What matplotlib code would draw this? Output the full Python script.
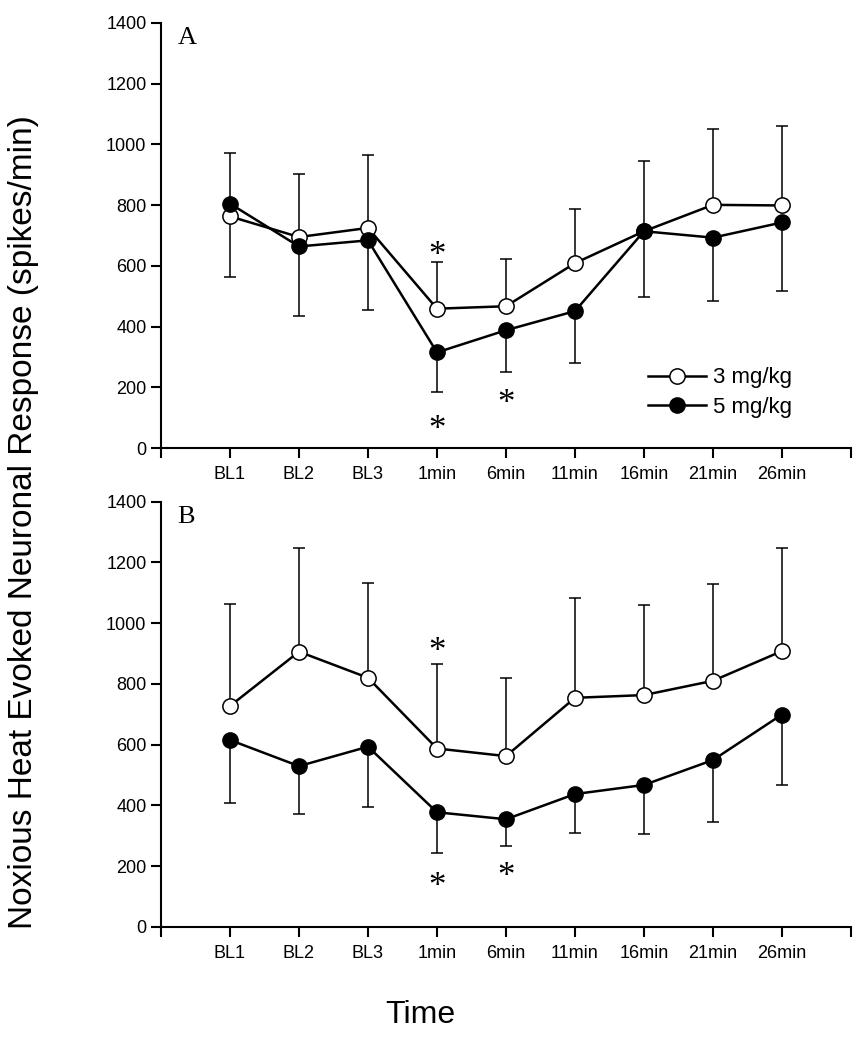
import matplotlib

matplotlib.use("Agg")
import matplotlib.pyplot as plt
import numpy as np

plt.rcParams.update({"font.family": "Liberation Sans", "font.size": 13})

# ---- data ---------------------------------------------------------------
time_labels = ["BL1", "BL2", "BL3", "1min", "6min", "11min", "16min", "21min", "26min"]

# panel A
a_mean_3 = [763, 695, 725, 459, 467, 609, 714, 801, 799]
a_sem_3 = [209, 208, 240, 154, 157, 178, 232, 251, 261]     # drawn upward
a_mean_5 = [805, 664, 684, 315, 388, 451, 714, 693, 743]
a_sem_5 = [242, 228, 229, 129, 138, 171, 216, 210, 227]     # drawn downward

# panel B
b_mean_3 = [727, 906, 820, 587, 562, 754, 763, 810, 908]
b_sem_3 = [335, 341, 311, 279, 257, 330, 298, 319, 339]
b_mean_5 = [615, 529, 593, 377, 354, 437, 467, 549, 699]
b_sem_5 = [209, 157, 199, 134, 88, 128, 161, 203, 233]

# asterisks: (time index, y value)
a_stars = [(3, 668), (3, 93), (4, 181)]
b_stars = [(3, 941), (3, 165), (4, 198)]

fig = plt.figure(figsize=(8.67, 10.5), dpi=100)
ax_a = fig.add_axes([0.1857, 0.5733, 0.7958, 0.4048])
ax_b = fig.add_axes([0.1857, 0.1174, 0.7958, 0.4048])

x = np.arange(1, len(time_labels) + 1)


def draw_panel(ax, m3, s3, m5, s5, stars, letter):
    zeros = np.zeros(len(x))
    ax.errorbar(x, m3, yerr=[zeros, s3], fmt="none", ecolor="black",
                elinewidth=1.1, capsize=4, capthick=1.1, zorder=1)
    ax.errorbar(x, m5, yerr=[s5, zeros], fmt="none", ecolor="black",
                elinewidth=1.1, capsize=4, capthick=1.1, zorder=1)
    ax.plot(x, m3, "-o", color="black", lw=1.8, ms=11, mfc="white",
            mec="black", mew=1.1, label="3 mg/kg", zorder=3)
    ax.plot(x, m5, "-o", color="black", lw=1.8, ms=11, mfc="black",
            mec="black", label="5 mg/kg", zorder=4)
    # the serif asterisk sits high in its box, so nudge it down
    for i, yv in stars:
        ax.annotate("*", (x[i], yv), xytext=(0, -8), textcoords="offset points",
                    family="Liberation Serif", fontsize=25,
                    ha="center", va="center")
    ax.text(0.24, 1350, letter, family="Liberation Serif", fontsize=19,
            ha="left", va="center")
    ax.set_xlim(0, 10)
    ax.set_ylim(0, 1400)
    ax.set_xticks(np.arange(0, 11))
    ax.set_xticklabels([""] + time_labels + [""])
    ax.set_yticks(np.arange(0, 1401, 200))
    for s in ["top", "right"]:
        ax.spines[s].set_visible(False)
    for s in ["left", "bottom"]:
        ax.spines[s].set_linewidth(1.5)
    ax.tick_params(direction="out", length=7, width=1.5, labelsize=13)
    ax.tick_params(axis="x", pad=6)


draw_panel(ax_a, a_mean_3, a_sem_3, a_mean_5, a_sem_5, a_stars, "A")
draw_panel(ax_b, b_mean_3, b_sem_3, b_mean_5, b_sem_5, b_stars, "B")

ax_a.legend(loc="lower right", bbox_to_anchor=(0.93, 0.045), frameon=False,
            fontsize=16, handlelength=2.6, handletextpad=0.3, labelspacing=0.38,
            borderpad=0)

fig.text(0.027, 0.503, "Noxious Heat Evoked Neuronal Response (spikes/min)",
         rotation=90, ha="center", va="center", fontsize=24)
fig.text(0.485, 0.033, "Time", ha="center", va="center", fontsize=23)

fig.savefig("out.png", dpi=100)
